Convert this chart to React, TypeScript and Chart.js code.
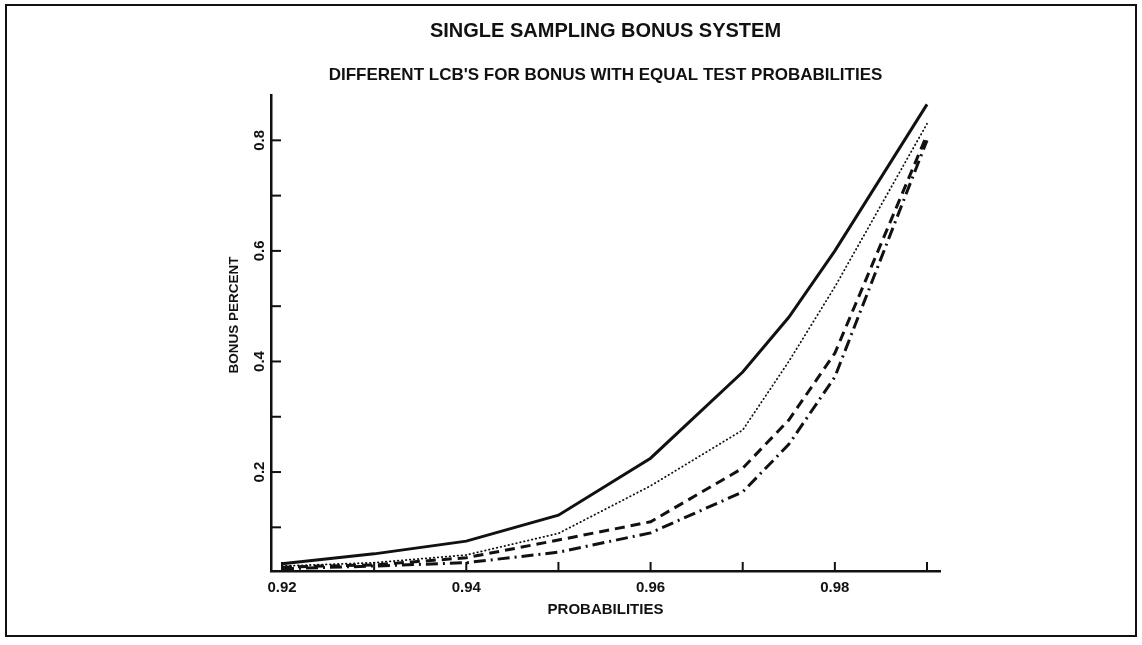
import React, { useEffect, useRef } from 'react';
import { Chart, registerables } from 'chart.js';

Chart.register(...registerables);

// ---- data ----
const probabilities = [0.92, 0.93, 0.94, 0.95, 0.96, 0.97, 0.975, 0.98, 0.99];
const bonusSolid = [0.034, 0.052, 0.075, 0.122, 0.225, 0.381, 0.48, 0.6, 0.865];
const bonusDotted = [0.03, 0.036, 0.05, 0.089, 0.175, 0.276, 0.4, 0.535, 0.83];
const bonusDashed = [0.028, 0.032, 0.045, 0.077, 0.11, 0.207, 0.294, 0.415, 0.81];
const bonusDashDot = [0.025, 0.03, 0.036, 0.055, 0.09, 0.164, 0.25, 0.372, 0.8];

const xTickValues = [0.92, 0.93, 0.94, 0.95, 0.96, 0.97, 0.98, 0.99];
const xTickLabels = ['0.92', '', '0.94', '', '0.96', '', '0.98', ''];
const yTickValues = [0.1, 0.2, 0.3, 0.4, 0.5, 0.6, 0.7, 0.8];
const yTickLabels = ['', '0.2', '', '0.4', '', '0.6', '', '0.8'];

const titleText = 'SINGLE SAMPLING BONUS SYSTEM';
const subtitleText = "DIFFERENT LCB'S FOR BONUS WITH EQUAL TEST PROBABILITIES";
const xTitle = 'PROBABILITIES';
const yTitle = 'BONUS PERCENT';

const FONT = "'Liberation Sans', Arial, sans-serif";
const INK = '#111111';

const toPoints = (ys: number[]) => probabilities.map((p, i) => ({ x: p, y: ys[i] }));

const axisDecor = {
  id: 'axisDecor',
  afterDraw(chart: any) {
    const { ctx, chartArea, scales } = chart;
    const xs = scales.x;
    const ys = scales.y;
    ctx.save();
    ctx.strokeStyle = INK;
    ctx.fillStyle = INK;
    ctx.lineWidth = 2;
    // inward tick marks
    xTickValues.forEach((v) => {
      const px = xs.getPixelForValue(v);
      ctx.beginPath();
      ctx.moveTo(px, chartArea.bottom);
      ctx.lineTo(px, chartArea.bottom - 9);
      ctx.stroke();
    });
    yTickValues.forEach((v) => {
      const py = ys.getPixelForValue(v);
      ctx.beginPath();
      ctx.moveTo(chartArea.left, py);
      ctx.lineTo(chartArea.left + 10, py);
      ctx.stroke();
    });
    // tick labels
    ctx.font = `bold 15px ${FONT}`;
    ctx.textAlign = 'center';
    ctx.textBaseline = 'middle';
    xTickValues.forEach((v, i) => {
      if (!xTickLabels[i]) return;
      ctx.fillText(xTickLabels[i], xs.getPixelForValue(v), chartArea.bottom + 17);
    });
    yTickValues.forEach((v, i) => {
      if (!yTickLabels[i]) return;
      ctx.save();
      ctx.translate(chartArea.left - 11, ys.getPixelForValue(v));
      ctx.rotate(-Math.PI / 2);
      ctx.fillText(yTickLabels[i], 0, 0);
      ctx.restore();
    });
    // axis titles
    ctx.fillText(xTitle, (chartArea.left + chartArea.right) / 2, chartArea.bottom + 39);
    ctx.font = `bold 13.5px ${FONT}`;
    ctx.save();
    ctx.translate(chartArea.left - 37, (chartArea.top + chartArea.bottom) / 2 - 18);
    ctx.rotate(-Math.PI / 2);
    ctx.fillText(yTitle, 0, 0);
    ctx.restore();
    ctx.restore();
  },
};

export default function App() {
  const canvasRef = useRef<HTMLCanvasElement | null>(null);

  useEffect(() => {
    if (!canvasRef.current) return;
    const chart = new Chart(canvasRef.current, {
      type: 'line',
      data: {
        datasets: [
          {
            label: 'LCB 1',
            data: toPoints(bonusSolid),
            borderColor: INK,
            borderWidth: 3,
            pointRadius: 0,
            tension: 0,
          },
          {
            label: 'LCB 2',
            data: toPoints(bonusDotted),
            borderColor: INK,
            borderWidth: 1.8,
            borderDash: [0.5, 3.5],
            borderCapStyle: 'round',
            pointRadius: 0,
            tension: 0,
          },
          {
            label: 'LCB 3',
            data: toPoints(bonusDashed),
            borderColor: INK,
            borderWidth: 3,
            borderDash: [10, 6],
            pointRadius: 0,
            tension: 0,
          },
          {
            label: 'LCB 4',
            data: toPoints(bonusDashDot),
            borderColor: INK,
            borderWidth: 3,
            borderDash: [12, 5, 2, 5],
            pointRadius: 0,
            tension: 0,
          },
        ],
      },
      options: {
        responsive: false,
        animation: false,
        layout: { padding: { left: 0, right: 202, top: 0, bottom: 0 } },
        plugins: {
          legend: { display: false },
          tooltip: { enabled: false },
          title: {
            display: true,
            text: titleText,
            fullSize: false,
            color: INK,
            font: { family: FONT, size: 20, weight: 'bold', lineHeight: 1.2 },
            padding: { top: 19.6, bottom: 10 },
          },
          subtitle: {
            display: true,
            text: subtitleText,
            fullSize: false,
            color: INK,
            font: { family: FONT, size: 17, weight: 'bold', lineHeight: 1.2 },
            padding: { top: 11.2, bottom: 9.8 },
          },
        },
        scales: {
          x: {
            type: 'linear',
            min: 0.918807,
            max: 0.99141,
            grid: { display: false, drawTicks: false },
            border: { display: true, color: INK, width: 2.5 },
            ticks: { display: false },
            afterFit: (scale: any) => {
              scale.height = 74;
            },
          },
          y: {
            type: 'linear',
            min: 0.021,
            max: 0.882,
            grid: { display: false, drawTicks: false },
            border: { display: true, color: INK, width: 2.5 },
            ticks: { display: false },
            afterFit: (scale: any) => {
              scale.width = 271;
            },
          },
        },
      },
      plugins: [axisDecor],
    });
    return () => chart.destroy();
  }, []);

  return (
    <div style={{ position: 'fixed', left: 0, top: 0, width: 1142, height: 645, background: '#fff' }}>
      <div
        style={{
          position: 'absolute',
          left: 5,
          top: 4,
          width: 1132,
          height: 633,
          border: `2px solid ${INK}`,
          boxSizing: 'border-box',
        }}
      />
      <canvas
        ref={canvasRef}
        width={1142}
        height={645}
        style={{ position: 'absolute', left: 0, top: 0, width: 1142, height: 645 }}
      />
    </div>
  );
}
